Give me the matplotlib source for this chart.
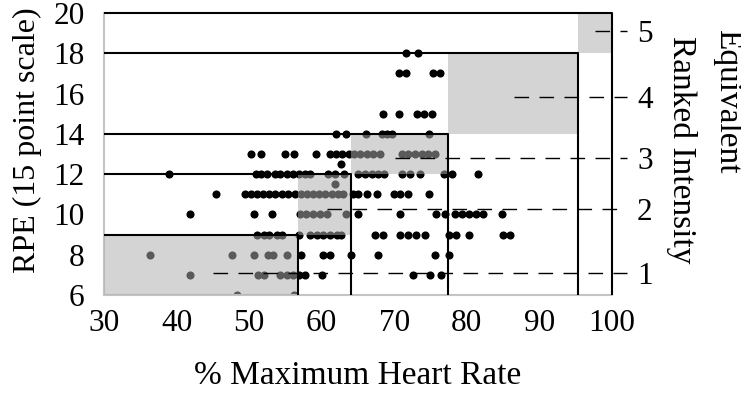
import matplotlib
matplotlib.use("Agg")
import matplotlib.pyplot as plt
from matplotlib.patches import Rectangle
import numpy as np

plt.rcParams['font.family'] = ['Liberation Serif', 'DejaVu Serif']

# % max heart rate and RPE of every sample, row by row (RPE 18 down to 6)
hr_pct = ([71.6, 73.2] +
          [70.6, 71.6, 75.3, 76.3] +
          [68.5, 70.6, 73.1, 74.1, 75.2] +
          [62.0, 63.4, 66.1, 68.3, 69.0, 69.7, 74.8] +
          [50.3, 51.6, 55.0, 56.2, 59.2, 61.1, 61.9, 62.8, 63.7, 64.4, 65.3, 66.2, 67.1, 68.0,
           71.0, 71.9, 72.9, 73.8, 74.7, 75.6] +
          [62.7] +
          [38.9, 51.0, 51.6, 52.5, 53.6, 54.3, 55.2, 56.0, 56.9, 57.7, 58.4, 60.9, 61.8, 63.0,
           65.0, 66.0, 66.9, 67.8, 68.6, 71.0, 72.2, 73.5, 76.8, 78.0, 81.6] +
          [61.8] +
          [45.4, 49.4, 50.3, 51.1, 51.9, 52.7, 53.6, 54.5, 55.4, 56.3, 57.1, 58.0, 58.8, 59.6,
           60.5, 61.4, 62.2, 62.9, 64.3, 65.0, 66.2, 67.6, 69.9, 70.8, 71.9, 74.8] +
          [41.9, 50.7, 53.2, 57.0, 57.9, 58.8, 59.8, 60.7, 63.4, 65.0, 70.8, 75.8, 77.0, 78.4,
           79.3, 80.3, 81.3, 82.2, 84.9] +
          [51.1, 52.0, 52.8, 53.8, 54.5, 56.9, 58.4, 59.3, 60.2, 61.1, 62.1, 62.7, 67.3, 68.4,
           70.8, 71.9, 73.0, 74.3, 77.5, 78.5, 80.3, 85.0, 85.9] +
          [36.4, 47.7, 50.7, 52.6, 53.3, 55.2, 57.2, 60.2, 61.1, 64.1, 67.8, 75.6, 77.6] +
          [41.9, 51.2, 52.0, 54.3, 55.2, 56.0, 56.8, 57.7, 60.1, 72.6, 74.9, 76.5] +
          [48.3, 56.2])
rpe = ([18] * 2 + [17] * 4 + [15] * 5 + [14] * 7 + [13] * 20 + [12.5] + [12] * 25 +
       [11.5] + [11] * 26 + [10] * 19 + [9] * 23 + [8] * 13 + [7] * 12 + [6] * 2)

# intensity zones: upper HR edge and upper RPE edge of each rank
zone_hr = [56.7, 64.0, 77.4, 95.3, 100.0]
zone_rpe = [9, 12, 14, 18, 20]

# equivalent ranked intensity (1-5): RPE level and where the dashed line starts
rank_labels = ['1', '2', '3', '4', '5']
rank_rpe = [7.1, 10.25, 12.8, 15.85, 19.1]
rank_hr_start = [45.0, 60.7, 70.1, 86.5, 97.6]

fig = plt.figure(figsize=(7.41, 3.93), dpi=100)
ax = fig.add_axes([0.1404, 0.2494, 0.6855, 0.7175])

ax.scatter(hr_pct, rpe, s=34, color='black', linewidths=0, zorder=2)

prev_hr, prev_rpe = 30, 6
for i in range(len(zone_hr)):
    box = Rectangle((prev_hr, prev_rpe), zone_hr[i] - prev_hr, zone_rpe[i] - prev_rpe,
                    facecolor=(0.68, 0.68, 0.69), alpha=0.52, edgecolor='none', zorder=3)
    ax.add_patch(box)
    # step line: across at the RPE edge, then down to the axis
    ax.plot([30, zone_hr[i], zone_hr[i]], [zone_rpe[i], zone_rpe[i], 6],
            color='black', lw=1.5, zorder=4, clip_on=False, solid_capstyle='butt')
    prev_hr, prev_rpe = zone_hr[i], zone_rpe[i]

for y, x0 in zip(rank_rpe, rank_hr_start):
    ax.plot([x0, 102.1], [y, y], color='black', lw=1.0, dashes=(10.5, 7.5),
            zorder=4, clip_on=False)

ax.set_xlim(30, 100)
ax.set_ylim(6, 20)
ax.set_xticks(range(30, 101, 10))
ax.set_yticks(range(6, 21, 2))
ax.tick_params(axis='x', length=0, pad=10, labelsize=22.5)
ax.tick_params(axis='y', length=0, pad=14, labelsize=22.5)
for side in ['top', 'right']:
    ax.spines[side].set_visible(False)
for side in ['left', 'bottom']:
    ax.spines[side].set_color('#c4c4c4')
    ax.spines[side].set_linewidth(1.5)

ax.set_xlabel('% Maximum Heart Rate', fontsize=24, labelpad=16)
ax.set_ylabel('RPE (15 point scale)', fontsize=23)
ax.yaxis.set_label_coords(-0.122, 0.55)

ax2 = ax.twinx()
ax2.set_ylim(6, 20)
ax2.set_yticks(rank_rpe)
ax2.set_yticklabels(rank_labels)
ax2.tick_params(axis='y', length=0, pad=18, labelsize=22.5)
for side in ax2.spines:
    ax2.spines[side].set_visible(False)

fig.text(727 / 741, 1 - 101 / 393, 'Equivalent', rotation=270, fontsize=24,
         ha='center', va='center')
fig.text(682 / 741, 1 - 150 / 393, 'Ranked Intensity', rotation=270, fontsize=24,
         ha='center', va='center')

fig.savefig('out.png', dpi=100)
